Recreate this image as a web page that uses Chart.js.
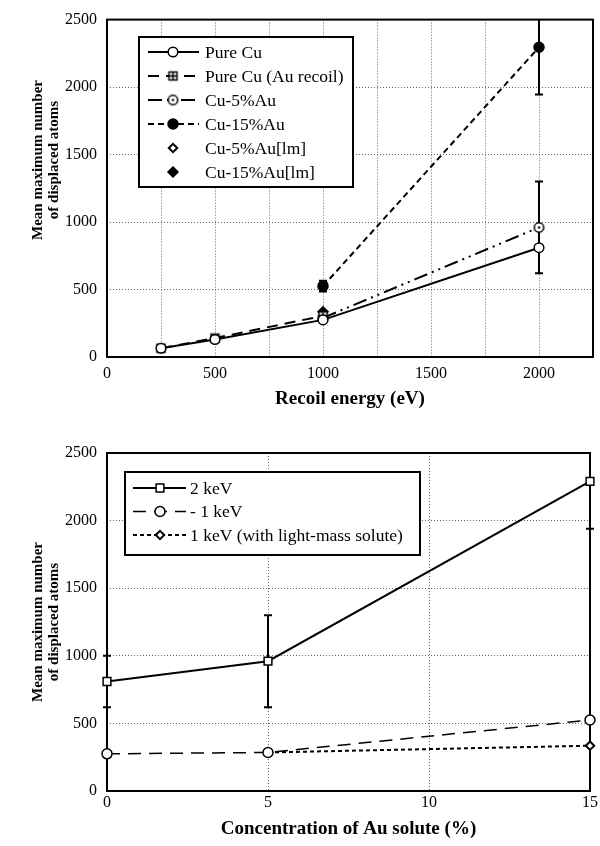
<!DOCTYPE html>
<html>
<head>
<meta charset="utf-8">
<script src="https://cdn.jsdelivr.net/npm/chart.js@4.4.0/dist/chart.umd.min.js"></script>
<style>
    body { margin: 0; background: #fff; width: 600px; height: 846px; overflow: hidden; }
    #boxEnergy { position: absolute; left: 0; top: 0; width: 600px; height: 420px; }
    #boxConc { position: absolute; left: 0; top: 420px; width: 600px; height: 426px; }
</style>
</head>
<body>
<div id="boxEnergy"><canvas id="chartEnergy" width="600" height="420"></canvas></div>
<div id="boxConc"><canvas id="chartConc" width="600" height="426"></canvas></div>
<script>
// ---- data, top chart (recoil energy, eV) ----
const pureCuX = [250, 500, 1000, 2000];
const pureCuY = [65, 130, 275, 810];

const auRecoilX = [250, 500, 1000];
const auRecoilY = [65, 140, 305];

const cu5X = [1000, 2000];
const cu5Y = [290, 960];
const cu5Err = [0, 340];

const cu15X = [1000, 2000];
const cu15Y = [525, 2295];
const cu15Err = [40, 350];

const cu5lmX = [1000];
const cu5lmY = [285];
const cu15lmX = [1000];
const cu15lmY = [335];

// ---- data, bottom chart (Au concentration, %) ----
const concX = [0, 5, 15];
const kev2Y = [810, 960, 2290];
const kev2Err = [190, 340, 350];
const kev1Y = [275, 285, 525];
const lightX = [5, 15];
const lightY = [285, 335];

const yTitleLines = ["Mean maximum number", "of displaced atoms"];

const FONT = "'Liberation Serif', 'Times New Roman', serif";

function pts(xs, ys) {
    return xs.map((x, i) => ({ x: x, y: ys[i] }));
}

// маркеры которых нет в Chart.js
function makeMarker(kind) {
    const c = document.createElement('canvas');
    c.width = 13;
    c.height = 13;
    const g = c.getContext('2d');
    g.lineWidth = 1.5;
    g.strokeStyle = '#000';
    g.fillStyle = '#fff';
    if (kind === 'boxplus') {
        g.fillRect(2, 2, 9, 9);
        g.strokeRect(2.5, 2.5, 8, 8);
        g.beginPath();
        g.moveTo(6.5, 2.5); g.lineTo(6.5, 10.5);
        g.moveTo(2.5, 6.5); g.lineTo(10.5, 6.5);
        g.stroke();
    } else {
        g.beginPath();
        g.arc(6.5, 6.5, 4.7, 0, Math.PI * 2);
        g.fill();
        g.stroke();
        g.fillStyle = '#000';
        g.beginPath();
        g.arc(6.5, 6.5, 1.2, 0, Math.PI * 2);
        g.fill();
    }
    return c;
}

function series(label, data, opt) {
    return Object.assign({
        label: label,
        data: data,
        borderColor: '#000',
        borderWidth: 2,
        borderDash: [],
        showLine: true,
        pointStyle: 'circle',
        pointRadius: 5,
        pointBackgroundColor: '#fff',
        pointBorderColor: '#000',
        pointBorderWidth: 1.5,
        clip: false,
        tension: 0
    }, opt);
}

// рамка + планки погрешностей (под маркерами)
const frameAndErrors = {
    id: 'frameAndErrors',
    beforeDatasetsDraw(chart) {
        const ctx = chart.ctx;
        const a = chart.chartArea;
        const xs = chart.scales.x, ys = chart.scales.y;
        ctx.save();
        ctx.strokeStyle = '#000';
        ctx.lineWidth = 2;
        ctx.setLineDash([]);
        ctx.strokeRect(a.left, a.top, a.right - a.left, a.bottom - a.top);

        ctx.beginPath();
        ctx.rect(a.left - 8, a.top, a.right - a.left + 16, a.bottom - a.top);
        ctx.clip();
        chart.data.datasets.forEach(ds => {
            if (!ds.errors) return;
            ds.data.forEach((p, j) => {
                const e = ds.errors[j];
                if (!e) return;
                const px = xs.getPixelForValue(p.x);
                const top = ys.getPixelForValue(p.y + e);
                const bot = ys.getPixelForValue(p.y - e);
                ctx.beginPath();
                ctx.moveTo(px, top); ctx.lineTo(px, bot);
                ctx.moveTo(px - 4, top); ctx.lineTo(px + 4, top);
                ctx.moveTo(px - 4, bot); ctx.lineTo(px + 4, bot);
                ctx.stroke();
            });
        });
        ctx.restore();
    }
};

// легенда в рамке внутри графика
const boxLegend = {
    id: 'boxLegend',
    afterDraw(chart, args, o) {
        const ctx = chart.ctx;
        ctx.save();
        ctx.fillStyle = '#fff';
        ctx.fillRect(o.left, o.top, o.width, o.height);
        ctx.strokeStyle = '#000';
        ctx.lineWidth = 2;
        ctx.setLineDash([]);
        ctx.strokeRect(o.left, o.top, o.width, o.height);
        ctx.font = '17.5px ' + FONT;
        ctx.textBaseline = 'middle';
        ctx.textAlign = 'left';
        chart.data.datasets.forEach((ds, i) => {
            const y = o.firstRow + i * o.rowStep;
            if (ds.showLine !== false) {
                ctx.strokeStyle = '#000';
                ctx.lineWidth = ds.borderWidth;
                ctx.setLineDash(ds.borderDash || []);
                ctx.beginPath();
                ctx.moveTo(o.lineStart, y);
                ctx.lineTo(o.lineEnd, y);
                ctx.stroke();
            }
            ctx.setLineDash([]);
            ctx.fillStyle = ds.pointBackgroundColor;
            ctx.strokeStyle = ds.pointBorderColor;
            ctx.lineWidth = ds.pointBorderWidth;
            Chart.helpers.drawPoint(ctx, {
                pointStyle: ds.pointStyle,
                radius: ds.pointRadius,
                rotation: 0,
                borderWidth: ds.pointBorderWidth
            }, o.marker, y);
            ctx.fillStyle = '#000';
            ctx.fillText(ds.label, o.textX, y + 1);
        });
        ctx.restore();
    }
};

// подпись оси Y в две строки
const yTitle = {
    id: 'yTitle',
    afterDraw(chart, args, o) {
        const ctx = chart.ctx;
        ctx.save();
        ctx.font = 'bold 15px ' + FONT;
        ctx.fillStyle = '#000';
        ctx.textAlign = 'center';
        ctx.textBaseline = 'middle';
        o.lines.forEach((t, i) => {
            ctx.save();
            ctx.translate(o.x[i], o.cy);
            ctx.rotate(-Math.PI / 2);
            ctx.fillText(t, 0, 0);
            ctx.restore();
        });
        ctx.restore();
    }
};

function axes(xOpt, xHeight, xTitle, xTitlePad) {
    const grid = { color: '#666', lineWidth: 1, drawTicks: false };
    return {
        x: Object.assign({
            type: 'linear',
            grid: grid,
            border: { display: false, dash: [1, 2] },
            title: {
                display: true,
                text: xTitle,
                color: '#000',
                font: { family: FONT, size: 19, weight: 'bold' },
                padding: { top: 0, bottom: xTitlePad }
            },
            afterFit: s => { s.height = xHeight; }
        }, xOpt),
        y: {
            type: 'linear',
            min: 0,
            max: 2500,
            grid: grid,
            border: { display: false, dash: [1, 2] },
            ticks: {
                stepSize: 500,
                color: '#000',
                font: { family: FONT, size: 16 },
                padding: 10,
                callback: v => String(v)
            },
            afterFit: s => { s.width = 107; }
        }
    };
}

function chartEnergy() {
    const xScale = {
        min: 0,
        max: 2250,
        ticks: {
            stepSize: 250,
            color: '#000',
            font: { family: FONT, size: 16 },
            padding: 7,
            autoSkip: false,
            maxRotation: 0,
            callback: v => (v % 500 === 0 ? String(v) : '')
        }
    };
    new Chart(document.getElementById('chartEnergy'), {
        type: 'scatter',
        data: {
            datasets: [
                series('Pure Cu', pts(pureCuX, pureCuY), { pointRadius: 4.8 }),
                series('Pure Cu (Au recoil)', pts(auRecoilX, auRecoilY), { borderDash: [11, 7], pointStyle: makeMarker('boxplus') }),
                series('Cu-5%Au', pts(cu5X, cu5Y), { errors: cu5Err, borderDash: [14, 5, 2, 5, 2, 5], pointStyle: makeMarker('dotcircle') }),
                series('Cu-15%Au', pts(cu15X, cu15Y), { errors: cu15Err, borderDash: [6, 4], pointBackgroundColor: '#000' }),
                series('Cu-5%Au[lm]', pts(cu5lmX, cu5lmY), { showLine: false, pointStyle: 'rectRot', pointRadius: 4.2, pointBorderWidth: 2 }),
                series('Cu-15%Au[lm]', pts(cu15lmX, cu15lmY), { showLine: false, pointStyle: 'rectRot', pointRadius: 5, pointBackgroundColor: '#000' })
            ]
        },
        options: {
            responsive: false,
            animation: false,
            layout: { padding: { top: 15, right: 7, left: 0, bottom: 0 } },
            scales: axes(xScale, 63, 'Recoil energy (eV)', 10),
            plugins: {
                legend: { display: false },
                tooltip: { enabled: false },
                boxLegend: { left: 139, top: 37, width: 214, height: 150, firstRow: 52, rowStep: 24, lineStart: 148, lineEnd: 199, marker: 173, textX: 205 },
                yTitle: { lines: yTitleLines, x: [38, 54], cy: 160 }
            }
        },
        plugins: [frameAndErrors, boxLegend, yTitle]
    });
}

function chartConc() {
    const xScale = {
        min: 0,
        max: 15,
        ticks: {
            stepSize: 5,
            color: '#000',
            font: { family: FONT, size: 16 },
            padding: 2,
            autoSkip: false,
            maxRotation: 0,
            callback: v => String(v)
        }
    };
    new Chart(document.getElementById('chartConc'), {
        type: 'scatter',
        data: {
            datasets: [
                series('2 keV', pts(concX, kev2Y), { errors: kev2Err, pointStyle: 'rect', pointRadius: 5.5 }),
                series('- 1 keV', pts(concX, kev1Y), { borderDash: [13, 8], borderWidth: 1.5 }),
                series('1 keV (with light-mass solute)', pts(lightX, lightY), { borderDash: [4, 3], pointStyle: 'rectRot', pointRadius: 4.2, pointBorderWidth: 2 })
            ]
        },
        options: {
            responsive: false,
            animation: false,
            layout: { padding: { top: 33, right: 0, left: 0, bottom: 0 } },
            scales: axes(xScale, 55, 'Concentration of Au solute (%)', 6),
            plugins: {
                legend: { display: false },
                tooltip: { enabled: false },
                boxLegend: { left: 125, top: 52, width: 295, height: 83, firstRow: 68, rowStep: 23.5, lineStart: 133, lineEnd: 186, marker: 160, textX: 190 },
                yTitle: { lines: yTitleLines, x: [38, 54], cy: 202 }
            }
        },
        plugins: [frameAndErrors, boxLegend, yTitle]
    });
}

chartEnergy();
chartConc();
</script>
</body>
</html>
